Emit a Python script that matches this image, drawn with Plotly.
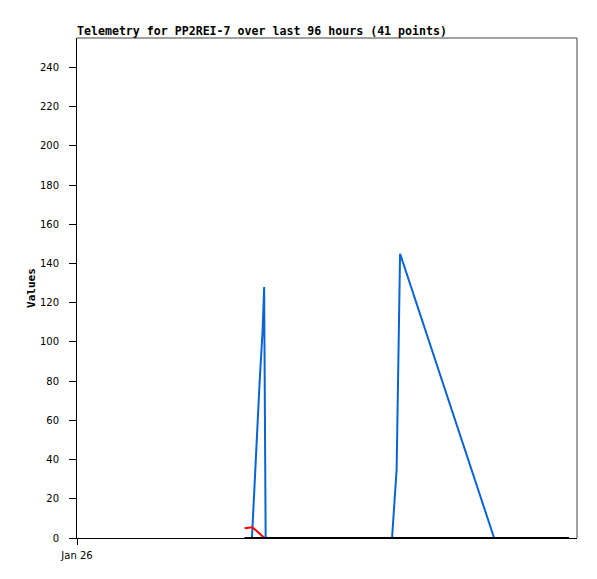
import plotly.graph_objects as go
import pandas as pd

base = pd.Timestamp("2024-01-26 00:00")

# hours since Jan 26 00:00 and values
blue_hours = [32.19, 33.59, 34.11, 34.49, 35.07, 35.64, 35.93, 36.22, 60.49, 61.37, 61.80, 62.03, 80.09, 94.47]
blue_vals = [0, 0, 28, 50, 80, 106, 128, 0, 0, 35, 100, 145, 0, 0]
red_hours = [32.19, 33.67, 36.02, 94.47]
red_vals = [5, 5.5, 0, 0]
black_hours = [32.19, 94.47]
black_vals = [0, 0]

y_ticks = list(range(0, 241, 20))
x_tick_label = "Jan 26"

def to_time(hs):
    return [base + pd.Timedelta(hours=h) for h in hs]

fig = go.Figure()
fig.add_trace(go.Scatter(x=to_time(blue_hours), y=blue_vals, mode="lines",
                         line=dict(color="#0a64d2", width=2), showlegend=False))
fig.add_trace(go.Scatter(x=to_time(red_hours), y=red_vals, mode="lines",
                         line=dict(color="#ff0000", width=2), showlegend=False))
fig.add_trace(go.Scatter(x=to_time(black_hours), y=black_vals, mode="lines",
                         line=dict(color="#000000", width=2), showlegend=False))

fig.update_layout(
    width=597, height=579,
    margin=dict(l=77, r=20, t=38, b=41),
    paper_bgcolor="white", plot_bgcolor="white",
    title=dict(text="<b>Telemetry for PP2REI-7 over last 96 hours (41 points)</b>",
               x=77/597, xanchor="left", y=1-31/579, yanchor="middle",
               font=dict(family="DejaVu Sans Mono", size=11.6, color="black")),
    font=dict(family="DejaVu Sans", size=10, color="black"),
    xaxis=dict(range=[base, base + pd.Timedelta(hours=96)],
               tickvals=[base], ticktext=[x_tick_label],
               ticks="outside", ticklen=6, tickcolor="black",
               ticklabelstandoff=2,
               showgrid=False, zeroline=False, automargin=False,
               showline=True, linecolor="black", linewidth=1),
    yaxis=dict(range=[0, 255], tickvals=y_ticks,
               ticks="outside", ticklen=7, tickcolor="black",
               ticklabelstandoff=8,
               showgrid=False, zeroline=False, automargin=False,
               showline=True, linecolor="black", linewidth=1,
               title=dict(text="<b>Values</b>", font=dict(family="DejaVu Sans Mono", size=11),
                          standoff=2)),
    shapes=[
        dict(type="line", xref="paper", yref="paper", x0=0, x1=1, y0=1, y1=1,
             line=dict(color="#444444", width=1)),
        dict(type="line", xref="paper", yref="paper", x0=1, x1=1, y0=0, y1=1,
             line=dict(color="#444444", width=1)),
    ],
)

fig.write_html("out.html", config={"displayModeBar": False},
               post_script="document.body.style.margin='0';")
